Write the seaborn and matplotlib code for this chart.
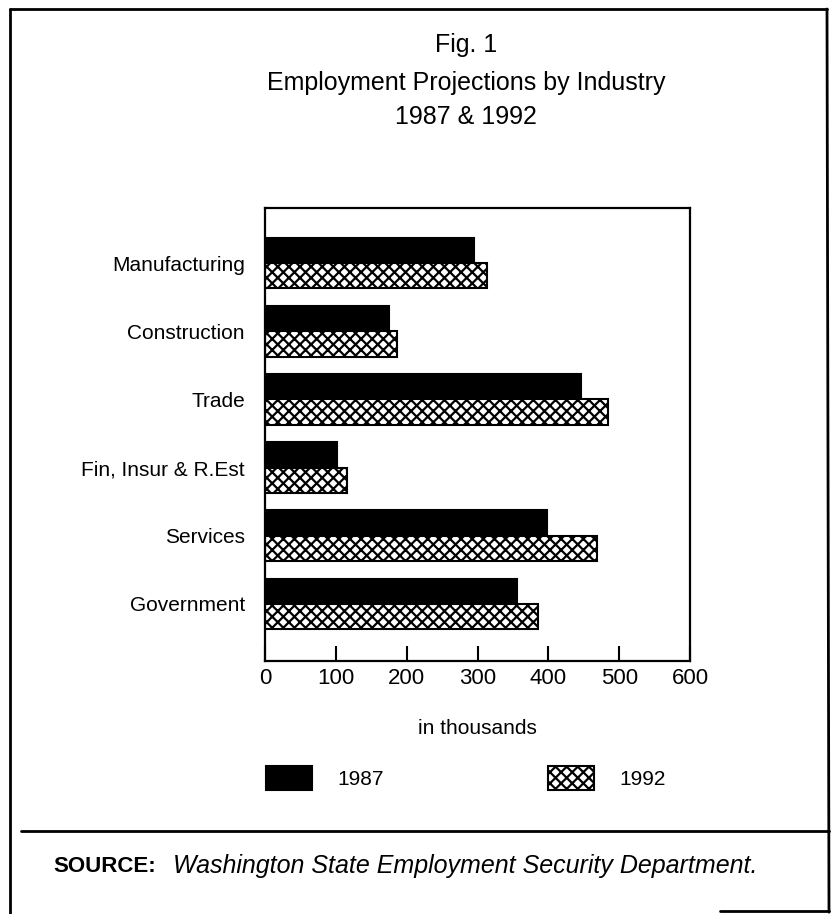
import numpy as np
import pandas as pd
import matplotlib.pyplot as plt
from matplotlib.lines import Line2D
import seaborn as sns

# ── Style ─────────────────────────────────────────────────
sns.set_style("white")
plt.rcParams["font.family"] = ["Liberation Sans", "DejaVu Sans"]
plt.rcParams["hatch.linewidth"] = 1.6
plt.rcParams["hatch.color"] = "black"
plt.rcParams["text.color"] = "black"
plt.rcParams["axes.labelcolor"] = "black"
plt.rcParams["xtick.color"] = "black"
plt.rcParams["ytick.color"] = "black"

# ── Data (thousands of jobs) ──────────────────────────────
industries = ["Manufacturing", "Construction", "Trade",
              "Fin, Insur & R.Est", "Services", "Government"]
years = ["1987", "1992"]
jobs_1987 = [295, 175, 446, 102, 398, 356]
jobs_1992 = [314, 186, 484, 116, 468, 385]
x_ticks = [0, 100, 200, 300, 400, 500, 600]

df = pd.DataFrame({
    "Industry": industries * 2,
    "Year": [years[0]] * len(industries) + [years[1]] * len(industries),
    "Jobs": jobs_1987 + jobs_1992,
})

# ── Figure ────────────────────────────────────────────────
fig = plt.figure(figsize=(8.35, 9.14), dpi=100)
ax = fig.add_axes([265 / 835, 1 - 661 / 914, 425 / 835, 453 / 914])

sns.barplot(
    data=df, y="Industry", x="Jobs", hue="Year",
    order=industries, hue_order=years, orient="h",
    palette=["black", "white"], saturation=1, errorbar=None,
    width=0.74, edgecolor="black", linewidth=1.5, ax=ax,
)
for bar in ax.containers[1]:
    bar.set_hatch("xxx")

ax.set_xlim(0, 600)
ax.set_ylim(5.84, -0.81)
ax.set_xticks(x_ticks)
ax.set_xticklabels([str(t) for t in x_ticks], fontsize=16)
ax.tick_params(axis="x", direction="in", length=11, width=1.5,
               bottom=True, pad=5)
ax.tick_params(axis="y", left=False, labelsize=15, pad=11)
ax.set_ylabel("")
ax.set_xlabel("in thousands", fontsize=15, labelpad=22)
for s in ax.spines.values():
    s.set_color("black")
    s.set_linewidth(1.6)

# ── Legend ────────────────────────────────────────────────
ax.get_legend().remove()
fig.legend(
    handles=[ax.containers[0], ax.containers[1]], labels=years,
    loc="center", bbox_to_anchor=(466 / 835, 1 - 778 / 914),
    ncol=2, frameon=False, fontsize=15,
    handlelength=2.2, handleheight=1.45, handletextpad=1.2,
    columnspacing=7.9,
)

# ── Titles ────────────────────────────────────────────────
tx = 466 / 835
fig.text(tx, 1 - 45 / 914, "Fig. 1", ha="center", va="center", fontsize=18)
fig.text(tx, 1 - 83 / 914, "Employment Projections by Industry",
         ha="center", va="center", fontsize=18)
fig.text(tx, 1 - 117 / 914, "1987 & 1992", ha="center", va="center", fontsize=18)

# ── Frame and source box ──────────────────────────────────
frame_kw = dict(transform=fig.transFigure, color="black", linewidth=2)
fig.add_artist(Line2D([10 / 835, 827 / 835], [1 - 9 / 914, 1 - 9 / 914], **frame_kw))
fig.add_artist(Line2D([10 / 835, 10 / 835], [1 - 9 / 914, 0], **frame_kw))
fig.add_artist(Line2D([827 / 835, 829 / 835], [1 - 9 / 914, 0.002], **frame_kw))
fig.add_artist(Line2D([21 / 835, 829 / 835], [1 - 831 / 914, 1 - 831 / 914], **frame_kw))
fig.add_artist(Line2D([720 / 835, 829 / 835], [0.003, 0.003], **frame_kw))

fig.text(53 / 835, 1 - 866 / 914, "SOURCE:", ha="left", va="center",
         fontsize=16, fontweight="bold")
fig.text(173 / 835, 1 - 866 / 914,
         "Washington State Employment Security Department.",
         ha="left", va="center", fontsize=18, style="italic")

plt.savefig("out.png", dpi=100)
